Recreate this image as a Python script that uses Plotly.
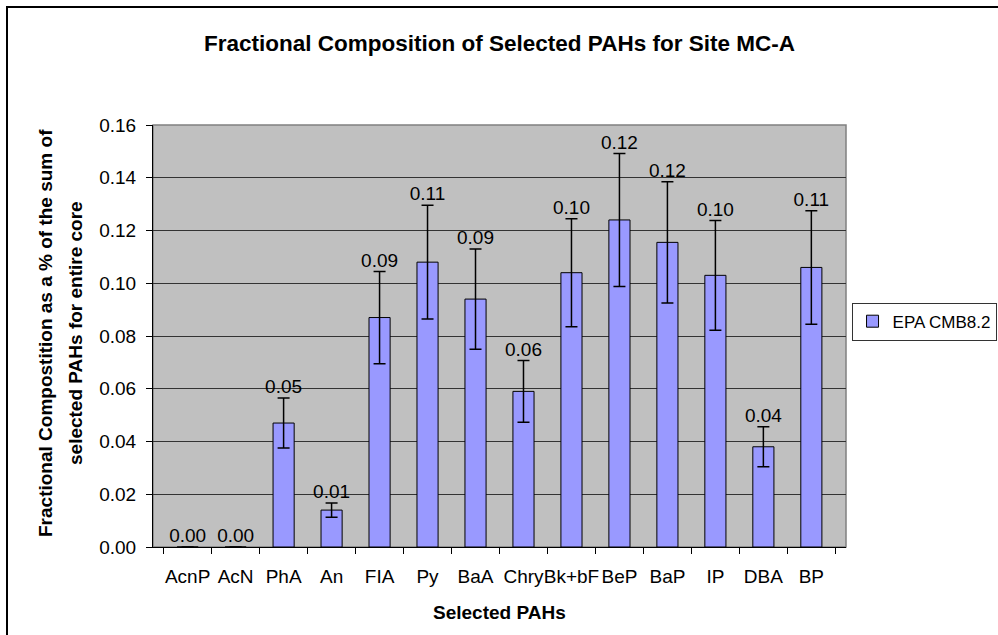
import plotly.graph_objects as go

categories = ["AcnP", "AcN", "PhA", "An", "FlA", "Py", "BaA", "Chry", "Bk+bF", "BeP", "BaP", "IP", "DBA", "BP"]
tick_labels = ["AcnP", "AcN", "PhA", "An", "FIA", "Py", "BaA", "Chry", "Bk+bF", "BeP", "BaP", "IP", "DBA", "BP"]
values = [0.0, 0.0, 0.047, 0.014, 0.087, 0.108, 0.094, 0.059, 0.104, 0.124, 0.1155, 0.103, 0.038, 0.106]
errors = [0.0, 0.0, 0.0095, 0.0027, 0.0175, 0.0216, 0.019, 0.0117, 0.0205, 0.0252, 0.023, 0.0208, 0.0076, 0.0215]
series_name = "EPA CMB8.2"
y_title_lines = ["Fractional Compostition as a % of the sum of", "selected PAHs for entire core"]

FONT = "Liberation Sans, Arial, sans-serif"

fig = go.Figure()
fig.add_trace(go.Bar(
    x=categories, y=values, name=series_name,
    marker=dict(color="#9999FF", line=dict(color="black", width=1)),
    error_y=dict(type="data", array=errors, visible=True, color="black", thickness=1.5, width=6),
))
label_y = [v + e for v, e in zip(values, errors)]
fig.add_trace(go.Scatter(
    x=categories, y=label_y, mode="text",
    text=[f"{v:.2f}" for v in values], textposition="top center",
    textfont=dict(family=FONT, size=19, color="black"),
    showlegend=False, cliponaxis=False, hoverinfo="skip",
))

fig.update_layout(
    width=998, height=635,
    margin=dict(l=153, r=152, t=125, b=88, autoexpand=False),
    paper_bgcolor="white", plot_bgcolor="#C0C0C0",
    bargap=0.56,
    font=dict(family=FONT, size=19, color="black"),
    title=dict(text="<b>Fractional Composition of Selected PAHs for Site MC-A</b>",
               x=0.5, xref="paper", xanchor="center", y=1 - 43 / 635, yanchor="middle",
               font=dict(family=FONT, size=22.5, color="black")),
    legend=dict(x=1.008, xanchor="left", y=0.534, yanchor="middle",
                bgcolor="white", bordercolor="#333333", borderwidth=1,
                itemwidth=30, tracegroupgap=0,
                font=dict(family=FONT, size=17, color="black")),
    showlegend=True,
)
fig.update_xaxes(
    tickvals=categories, ticktext=tick_labels, tickangle=0,
    showline=True, linecolor="black", linewidth=1,
    ticks="outside", tickson="boundaries", ticklen=6, tickcolor="black",
    ticklabelstandoff=12, showgrid=False,
    tickfont=dict(family=FONT, size=19),
)
fig.update_yaxes(
    range=[0, 0.16], dtick=0.02, tickformat=".2f",
    showline=True, linecolor="black", linewidth=1,
    ticks="outside", ticklen=6, tickcolor="black",
    ticklabelstandoff=6,
    showgrid=True, gridcolor="#333333", gridwidth=1, zeroline=False,
    tickfont=dict(family=FONT, size=19),
)
# plot-area frame (gray) and outer chart border
fig.add_shape(type="rect", xref="paper", yref="paper", x0=0, x1=1, y0=0, y1=1,
              line=dict(color="#808080", width=1.5), layer="below")
fig.add_shape(type="rect", xref="paper", yref="paper", x0=(7 - 153) / 693, x1=1.3,
              y0=-0.5, y1=(547 - 7) / 422, line=dict(color="black", width=2))
for line_text, px in zip(y_title_lines, [45, 75]):
    fig.add_annotation(text=f"<b>{line_text}</b>",
                       xref="paper", yref="paper", x=(px - 153) / 693, y=(547 - 333) / 422,
                       textangle=-90, xanchor="center", yanchor="middle",
                       showarrow=False, font=dict(family=FONT, size=19, color="black"))
fig.add_annotation(text="<b>Selected PAHs</b>", xref="paper", yref="paper",
                   x=0.5, y=(547 - 612) / 422, xanchor="center", yanchor="middle", showarrow=False,
                   font=dict(family=FONT, size=19, color="black"))

fig.write_html("out.html", config={"displayModeBar": False},
               post_script="document.body.style.margin='0';")
